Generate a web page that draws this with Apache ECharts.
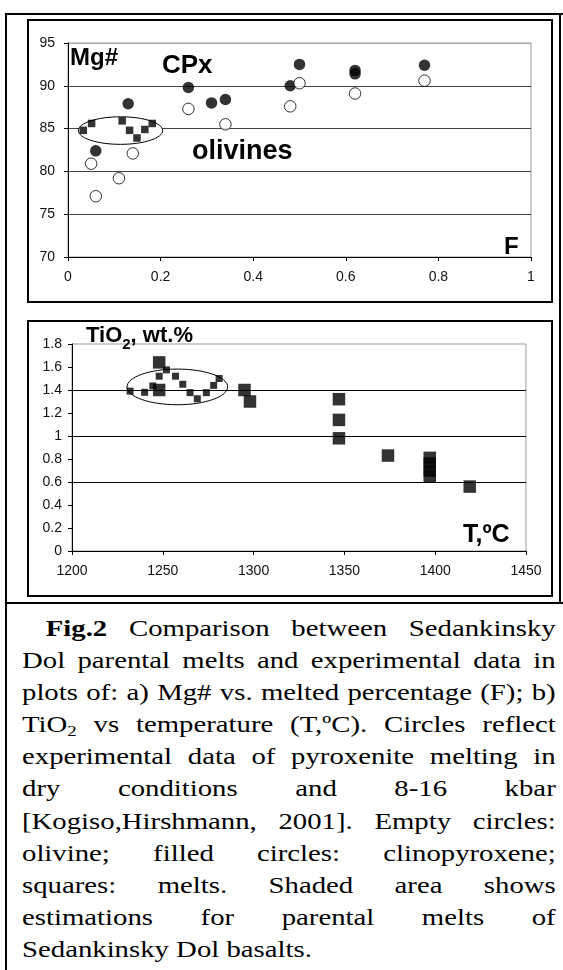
<!DOCTYPE html>
<html>
<head>
<meta charset="utf-8">
<script src="https://cdn.jsdelivr.net/npm/echarts@6/dist/echarts.min.js"></script>
<style>
body { margin: 0; background: #fff; }
#page { position: relative; width: 563px; height: 970px; overflow: hidden; background: #fff; }
#chart { position: absolute; left: 0; top: 0; width: 563px; height: 604px; }
.rule { position: absolute; background: #000; }
.box { position: absolute; border: 2px solid #000; box-sizing: border-box; }
#caption {
    position: absolute; left: 22px; top: 613px; width: 427px;
    transform: scaleX(1.25); transform-origin: 0 0;
    font-family: 'Liberation Serif', 'Times New Roman', serif;
    font-size: 23px; line-height: 32.1px; color: #000;
}
.ln { display: flex; justify-content: space-between; white-space: nowrap; }
#caption sub { font-size: 15px; line-height: 0; vertical-align: -4px; }
</style>
</head>
<body>
<div id="page">
    <div class="rule" style="left:5px;top:13px;width:2px;height:957px"></div>
    <div class="rule" style="left:5px;top:13px;width:558px;height:2px"></div>
    <div class="rule" style="left:559px;top:13px;width:2px;height:591px"></div>
    <div class="rule" style="left:5px;top:602px;width:558px;height:2px"></div>
    <div class="box" style="left:27px;top:19px;width:526px;height:284px"></div>
    <div class="box" style="left:27px;top:320px;width:526px;height:277px"></div>
    <div id="chart"></div>
    <div id="caption">
        <div class="ln" style="margin-left:19px"><span><b>Fig.2</b></span><span>Comparison</span><span>between</span><span>Sedankinsky</span></div>
        <div class="ln"><span>Dol</span><span>parental</span><span>melts</span><span>and</span><span>experimental</span><span>data</span><span>in</span></div>
        <div class="ln"><span>plots</span><span>of:</span><span>a)</span><span>Mg#</span><span>vs.</span><span>melted</span><span>percentage</span><span>(F);</span><span>b)</span></div>
        <div class="ln"><span>TiO<sub>2</sub></span><span>vs</span><span>temperature</span><span>(T,ºC).</span><span>Circles</span><span>reflect</span></div>
        <div class="ln"><span>experimental</span><span>data</span><span>of</span><span>pyroxenite</span><span>melting</span><span>in</span></div>
        <div class="ln"><span>dry</span><span>conditions</span><span>and</span><span>8-16</span><span>kbar</span></div>
        <div class="ln"><span>[Kogiso,Hirshmann,</span><span>2001].</span><span>Empty</span><span>circles:</span></div>
        <div class="ln"><span>olivine;</span><span>filled</span><span>circles:</span><span>clinopyroxene;</span></div>
        <div class="ln"><span>squares:</span><span>melts.</span><span>Shaded</span><span>area</span><span>shows</span></div>
        <div class="ln"><span>estimations</span><span>for</span><span>parental</span><span>melts</span><span>of</span></div>
        <div style="white-space:nowrap">Sedankinsky Dol basalts.</div>
    </div>
</div>
<script>
// a) Mg# vs F
var fTicks = [0, 0.2, 0.4, 0.6, 0.8, 1];
var mgTicks = [70, 75, 80, 85, 90, 95];
var cpxMg = [[0.06, 82.4], [0.13, 87.9], [0.26, 89.8], [0.31, 88.0], [0.34, 88.4],
    [0.48, 90.0], [0.50, 92.5], [0.62, 91.8], [0.62, 91.4], [0.77, 92.4]];
var olivineMg = [[0.05, 80.9], [0.06, 77.1], [0.11, 79.2], [0.14, 82.1], [0.26, 87.3],
    [0.34, 85.5], [0.48, 87.6], [0.50, 90.3], [0.62, 89.1], [0.77, 90.6]];
var meltMg = [[0.033, 84.8], [0.051, 85.6], [0.117, 85.9], [0.133, 84.8],
    [0.149, 83.9], [0.166, 84.9], [0.182, 85.6]];
// shaded area: centre x, centre y, half width, half height
var areaMg = [[0.1135, 84.77, 0.091, 1.61]];

// b) TiO2 vs T
var tTicks = [1200, 1250, 1300, 1350, 1400, 1450];
var tiTicks = [0, 0.2, 0.4, 0.6, 0.8, 1, 1.2, 1.4, 1.6, 1.8];
var tiGridLines = [0.6, 1.0, 1.4];
var meltTi = [[1248, 1.64], [1248, 1.40], [1295, 1.40], [1298, 1.30], [1347, 1.32],
    [1347, 1.14], [1347, 0.98], [1374, 0.83], [1397, 0.81], [1397, 0.76],
    [1397, 0.70], [1397, 0.65], [1419, 0.56]];
var meltTiArea = [[1232, 1.39], [1240, 1.38], [1244.5, 1.435], [1248, 1.52], [1252, 1.575],
    [1257, 1.52], [1261, 1.45], [1265, 1.377], [1269, 1.324], [1274, 1.377],
    [1278, 1.44], [1281, 1.5]];
var areaTi = [[1258, 1.427, 27.7, 0.155]];

var FONT = '"Liberation Sans", Arial, sans-serif';

function ellipseItem(params, api) {
    var c = api.coord([api.value(0), api.value(1)]);
    var s = api.size([api.value(2), api.value(3)]);
    return {
        type: 'ellipse',
        shape: { cx: c[0], cy: c[1], rx: s[0], ry: s[1] },
        style: { fill: '#fff', stroke: '#000', lineWidth: 1 }
    };
}

function plain(v) {
    return String(v);
}

function valueAxis(ticks, grid, margin, extra) {
    var ax = {
        type: 'value',
        gridIndex: grid,
        min: ticks[0],
        max: ticks[ticks.length - 1],
        interval: ticks[1] - ticks[0],
        axisLine: { show: true, lineStyle: { color: '#000', width: 1 } },
        axisTick: { show: true, length: 4, lineStyle: { color: '#000' } },
        axisLabel: { color: '#111', fontSize: 14, fontFamily: FONT, margin: margin, formatter: plain },
        splitLine: { show: false }
    };
    for (var k in extra) ax[k] = extra[k];
    return ax;
}

var chart = echarts.init(document.getElementById('chart'));

var option = {
    animation: false,
    grid: [
        { left: 68, top: 43, width: 463, height: 214, show: true, borderColor: '#999', borderWidth: 1 },
        { left: 72, top: 344, width: 454, height: 207, show: true, borderColor: '#999', borderWidth: 1 }
    ],
    xAxis: [
        valueAxis(fTicks, 0, 13),
        valueAxis(tTicks, 1, 13)
    ],
    yAxis: [
        valueAxis(mgTicks, 0, 13, {
            splitLine: { show: true, lineStyle: { color: ['#000', '#444', '#444', '#444', '#444', '#aaa'], width: 1 } }
        }),
        valueAxis(tiTicks, 1, 10)
    ],
    series: [
        {
            type: 'custom', xAxisIndex: 0, yAxisIndex: 0, z: 2,
            renderItem: ellipseItem, data: areaMg, silent: true
        },
        {
            name: 'melts', type: 'scatter', xAxisIndex: 0, yAxisIndex: 0, z: 3,
            symbol: 'rect', symbolSize: 7.5, itemStyle: { color: '#000' }, data: meltMg
        },
        {
            name: 'CPx', type: 'scatter', xAxisIndex: 0, yAxisIndex: 0, z: 4,
            symbol: 'circle', symbolSize: 11.5, itemStyle: { color: '#000' }, data: cpxMg
        },
        {
            name: 'olivines', type: 'scatter', xAxisIndex: 0, yAxisIndex: 0, z: 4,
            symbol: 'circle', symbolSize: 11.5,
            itemStyle: { color: '#fff', borderColor: '#000', borderWidth: 1 }, data: olivineMg
        },
        {
            type: 'line', xAxisIndex: 1, yAxisIndex: 1, z: 1, data: [],
            markLine: {
                silent: true, symbol: 'none', label: { show: false },
                lineStyle: { color: '#000', width: 1, type: 'solid' },
                data: tiGridLines.map(function (v) { return { yAxis: v }; })
            }
        },
        {
            type: 'custom', xAxisIndex: 1, yAxisIndex: 1, z: 2,
            renderItem: ellipseItem, data: areaTi, silent: true
        },
        {
            name: 'melts area', type: 'scatter', xAxisIndex: 1, yAxisIndex: 1, z: 3,
            symbol: 'rect', symbolSize: 7, itemStyle: { color: '#000' }, data: meltTiArea
        },
        {
            name: 'melts', type: 'scatter', xAxisIndex: 1, yAxisIndex: 1, z: 3,
            symbol: 'rect', symbolSize: 12.5, itemStyle: { color: '#000' }, data: meltTi
        }
    ],
    graphic: [
        { type: 'text', left: 70, top: 46, z: 10, style: { text: 'Mg#', font: 'bold 24px ' + FONT, fill: '#000' } },
        { type: 'text', left: 162, top: 53, z: 10, style: { text: 'CPx', font: 'bold 26px ' + FONT, fill: '#000' } },
        { type: 'text', left: 192, top: 138, z: 10, style: { text: 'olivines', font: 'bold 27px ' + FONT, fill: '#000' } },
        { type: 'text', left: 504, top: 235, z: 10, style: { text: 'F', font: 'bold 24px ' + FONT, fill: '#000' } },
        { type: 'text', left: 463, top: 523, z: 10, style: { text: 'T,ºC', font: 'bold 25px ' + FONT, fill: '#000' } },
        {
            type: 'text', left: 86, top: 325, z: 10,
            style: {
                text: '{a|TiO}{s|2}{a|, wt.%}',
                rich: {
                    a: { font: 'bold 22px ' + FONT, fill: '#000', lineHeight: 32, verticalAlign: 'middle' },
                    s: { font: 'bold 15px ' + FONT, fill: '#000', lineHeight: 32, verticalAlign: 'bottom' }
                }
            }
        }
    ]
};

chart.setOption(option);
</script>
</body>
</html>
